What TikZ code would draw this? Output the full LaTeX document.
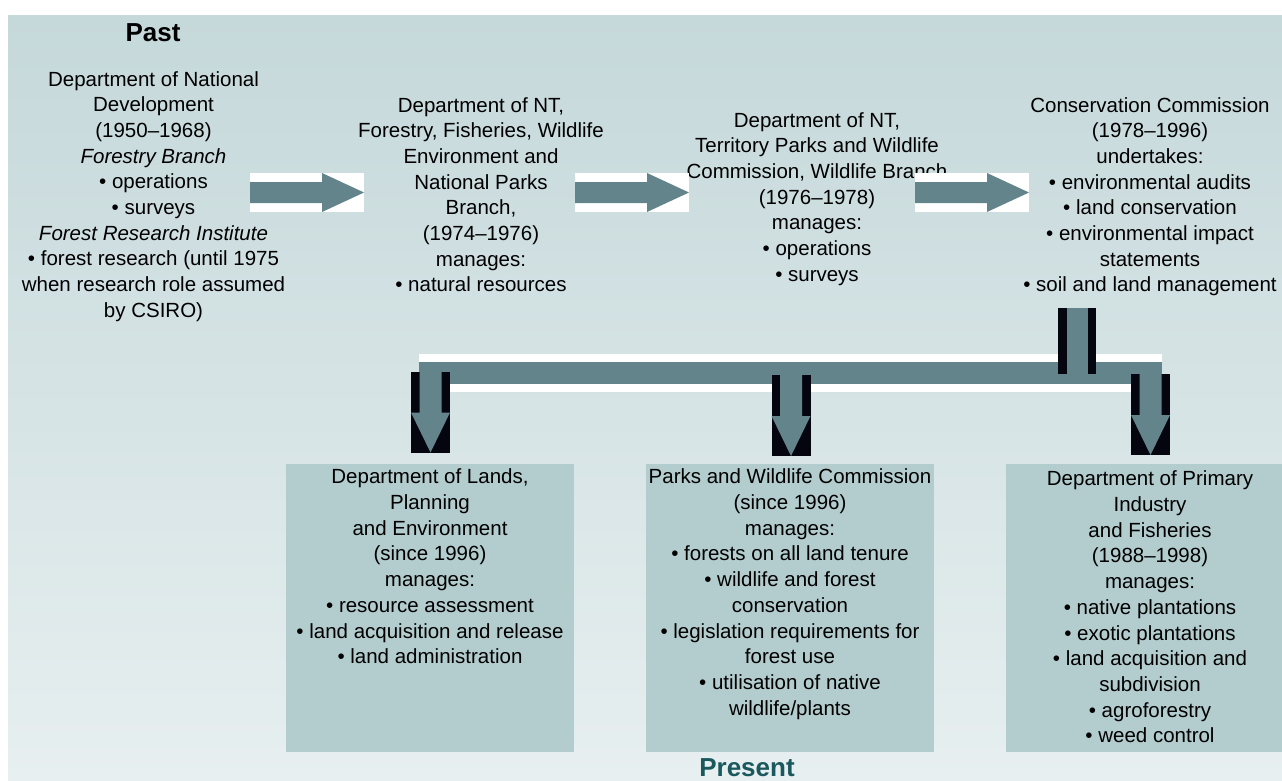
\documentclass[tikz,border=0pt]{standalone}
\usepackage{fontspec}
\setmainfont{Liberation Sans}
\usepackage{xcolor}
\usepackage{tikz}
\definecolor{bgTop}{RGB}{197,216,218}
\definecolor{bgBottom}{RGB}{231,239,240}
\definecolor{boxFill}{RGB}{179,204,206}
\definecolor{arrowGrey}{RGB}{98,132,138}
\definecolor{darkTeal}{RGB}{27,88,94}
\definecolor{nearBlack}{RGB}{5,5,16}

\begin{document}
\begin{tikzpicture}[x = 1pt, y = -1pt,
    txt/.style = {align = center, inner sep = 0pt, anchor = north, font = \fontsize{20.5}{25.7}\selectfont},
    heading/.style = {inner sep = 0pt, anchor = north, font = \fontsize{26}{30}\selectfont\bfseries},
    panel/.style = {rectangle, fill = boxFill, inner sep = 0pt, minimum height = 288pt},
    hblock/.style = {rectangle, fill = white, minimum width = 114pt, minimum height = 39pt, inner sep = 0pt,
      path picture = {\fill[arrowGrey] ([yshift = 10.5pt]path picture bounding box.west) -- ([xshift = -42pt, yshift = 10.5pt]path picture bounding box.east) -- ([xshift = -42pt]path picture bounding box.north east) -- (path picture bounding box.east) -- ([xshift = -42pt]path picture bounding box.south east) -- ([xshift = -42pt, yshift = -10.5pt]path picture bounding box.east) -- ([yshift = -10.5pt]path picture bounding box.west) -- cycle;}},
    vblock/.style = {rectangle, fill = nearBlack, minimum width = 39pt, minimum height = 81pt, inner sep = 0pt,
      path picture = {\fill[arrowGrey] ([xshift = -11pt]path picture bounding box.north) -- ([xshift = -11pt, yshift = 40pt]path picture bounding box.south) -- ([yshift = 40pt]path picture bounding box.south west) -- (path picture bounding box.south) -- ([yshift = 40pt]path picture bounding box.south east) -- ([xshift = 11pt, yshift = 40pt]path picture bounding box.south) -- ([xshift = 11pt]path picture bounding box.north) -- cycle;}},
    stemblock/.style = {rectangle, fill = nearBlack, minimum width = 38pt, minimum height = 66pt, inner sep = 0pt,
      path picture = {\fill[arrowGrey] ([xshift = -10.5pt]path picture bounding box.north) rectangle ([xshift = 10.5pt]path picture bounding box.south);}},
    spineblock/.style = {rectangle, fill = white, minimum width = 743pt, minimum height = 38pt, inner sep = 0pt,
      path picture = {\fill[arrowGrey] ([yshift = 11pt]path picture bounding box.west) rectangle ([yshift = -11pt]path picture bounding box.east);}}
  ]
    \useasboundingbox (0,0) rectangle (1282,780);
    \fill[white] (0,0) rectangle (1282,780);
    \shade[top color = bgTop, bottom color = bgBottom] (8,15) rectangle (1282,780);

    \node[panel, minimum width = 288pt](landsBox) at (430,608) {};
    \node[panel, minimum width = 288pt](parksBox) at (790,608) {};
    \node[panel, minimum width = 276pt](primaryBox) at (1144,608) {};

    \node[heading](past) at (153,23) {Past};
    \node[txt](natdev) at (153.5,71) {Department of National\\Development\\(1950--1968)\\\textit{Forestry Branch}\\• operations\\• surveys\\\textit{Forest Research Institute}\\• forest research (until 1975\\when research role assumed\\by CSIRO)};
    \node[txt](ntForestry) at (481,97) {Department of NT,\\Forestry, Fisheries, Wildlife\\Environment and\\National Parks\\Branch,\\(1974--1976)\\manages:\\• natural resources};
    \node[txt](ntParks) at (817,112) {Department of NT,\\Territory Parks and Wildlife\\Commission, Wildlife Branch\\(1976--1978)\\manages:\\• operations\\• surveys};
    \node[txt](conservation) at (1150,97) {Conservation Commission\\(1978--1996)\\undertakes:\\• environmental audits\\• land conservation\\• environmental impact\\statements\\• soil and land management};

    \node[txt](lands) at ([yshift = -5pt]landsBox.north) {Department of Lands,\\Planning\\and Environment\\(since 1996)\\manages:\\• resource assessment\\• land acquisition and release\\• land administration};
    \node[txt](parks) at ([yshift = -5pt]parksBox.north) {Parks and Wildlife Commission\\(since 1996)\\manages:\\• forests on all land tenure\\• wildlife and forest\\conservation\\• legislation requirements for\\forest use\\• utilisation of native\\wildlife/plants};
    \node[txt](primary) at ([xshift = 6pt, yshift = -7pt]primaryBox.north) {Department of Primary\\Industry\\and Fisheries\\(1988--1998)\\manages:\\• native plantations\\• exotic plantations\\• land acquisition and\\subdivision\\• agroforestry\\• weed control};

    \node[heading, text = darkTeal](present) at (747,758) {Present};

    \node[hblock](arrowA) at (307,192.5) {};
    \node[hblock](arrowB) at (632,192.5) {};
    \node[hblock](arrowC) at (972,192.5) {};

    \node[spineblock](spine) at (790.5,373) {};
    \node[stemblock](stem) at (1077,341) {};
    \node[vblock](downLands) at (430.5,412) {};
    \node[vblock](downParks) at (791,415.5) {};
    \node[vblock](downPrimary) at (1150.5,414.5) {};
\end{tikzpicture}
\end{document}
